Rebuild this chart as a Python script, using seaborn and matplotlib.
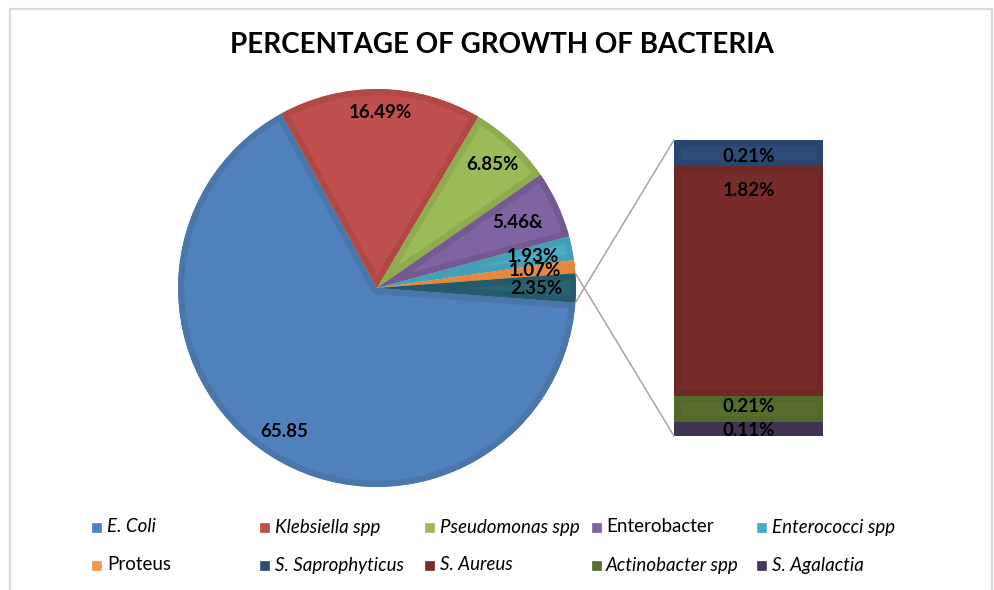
import numpy as np
import matplotlib
matplotlib.use("Agg")
import matplotlib.pyplot as plt
import seaborn as sns
from matplotlib.patches import Rectangle, ConnectionPatch

# ---- data -------------------------------------------------------------
pie_names = ["E. Coli", "Klebsiella spp", "Pseudomonas spp", "Enterobacter",
             "Enterococci spp", "Proteus", "Other"]
pie_values = [65.85, 16.49, 6.85, 5.46, 1.93, 1.07, 2.35]
pie_suffix = ["", "%", "%", "&", "%", "%", "%"]

bar_names = ["S. Saprophyticus", "S. Aureus", "Actinobacter spp", "S. Agalactia"]
bar_values = [0.21, 1.82, 0.21, 0.11]

legend_names = ["E. Coli", "Klebsiella spp", "Pseudomonas spp", "Enterobacter",
                "Enterococci spp", "Proteus", "S. Saprophyticus", "S. Aureus",
                "Actinobacter spp", "S. Agalactia"]
legend_italic = [True, True, True, False, True, False, True, True, True, True]

title = "PERCENTAGE OF GROWTH OF BACTERIA"

# ---- styling ----------------------------------------------------------
sns.set_theme(style="white")
plt.rcParams["font.family"] = ["Lato", "DejaVu Sans"]

pie_colors = ["#4F81BD", "#C0504D", "#9BBB59", "#8064A2", "#4BACC6", "#F79646", "#296273"]
pie_edges = ["#4A76AA", "#B04844", "#8EAB50", "#73598F", "#43A0B8", "#E5883D", "#245A6A"]
bar_colors = ["#2C4D75", "#772C2A", "#586E2D", "#46375A"]
bar_edges = ["#284670", "#6E2826", "#52672A", "#413352"]
color_map = dict(zip(pie_names[:-1] + bar_names, pie_colors[:-1] + bar_colors))

W, H = 995, 590
fig = plt.figure(figsize=(W / 100, H / 100), dpi=100)
fig.patch.set_facecolor("white")

def px_box(x0, y0, x1, y1):
    return [x0 / W, (H - y1) / H, (x1 - x0) / W, (y1 - y0) / H]

# outer chart frame
fig.add_artist(Rectangle((10 / W, -0.02), 982 / W, (H - 9) / H + 0.02,
                         transform=fig.transFigure, fill=False,
                         ec="#D9D9D9", lw=1.6))

fig.text(502 / W, 1 - 45 / H, title, ha="center", va="center",
         fontsize=20, fontweight="bold", color="black")

# ---- main pie ---------------------------------------------------------
ax_pie = fig.add_axes(px_box(178, 89, 576, 487))
total = sum(pie_values)
start = -pie_values[-1] / total * 360 / 2
wedges, _ = ax_pie.pie(pie_values, colors=pie_colors, startangle=start,
                       counterclock=False, radius=1.0,
                       wedgeprops=dict(linewidth=9, joinstyle="round"))
for w, ec in zip(wedges, pie_edges):
    w.set_edgecolor(ec)
    w.set_clip_path(w)
    w.set_clip_on(True)
ax_pie.set_xlim(-1, 1)
ax_pie.set_ylim(-1, 1)
ax_pie.set_aspect("equal")
ax_pie.axis("off")

label_dist = [0.86, 0.88, 0.85, 0.78, 0.80, 0.80, 0.80]
for w, v, s, d in zip(wedges, pie_values, pie_suffix, label_dist):
    mid = np.deg2rad((w.theta1 + w.theta2) / 2)
    ax_pie.text(d * np.cos(mid), d * np.sin(mid), f"{v:.2f}{s}",
                ha="center", va="center", fontsize=13.5, fontweight="bold",
                color="black")

# ---- breakdown bar ----------------------------------------------------
ax_bar = fig.add_axes(px_box(674, 140, 823, 436))
bar_total = sum(bar_values)
bottom = bar_total
label_offsets = [17, 24, 11, 8]
for name, v, c, ec, off in zip(bar_names, bar_values, bar_colors, bar_edges, label_offsets):
    bottom -= v
    rects = ax_bar.bar(0, v, bottom=bottom, width=1.0, color=c,
                       edgecolor=ec, linewidth=9)
    for r in rects:
        r.set_clip_path(r)
        r.set_clip_on(True)
    ax_bar.annotate(f"{v:.2f}%", xy=(0, bottom + v), xytext=(0, -off),
                    textcoords="offset pixels", ha="center", va="center",
                    fontsize=13.5, fontweight="bold", color="black",
                    annotation_clip=False)
ax_bar.set_xlim(-0.5, 0.5)
ax_bar.set_ylim(0, bar_total)
ax_bar.axis("off")

# connector lines between the "Other" wedge and the bar
other = wedges[-1]
for ang, ybar in [(other.theta1, bar_total), (other.theta2, 0)]:
    a = np.deg2rad(ang)
    con = ConnectionPatch(xyA=(np.cos(a), np.sin(a)), coordsA=ax_pie.transData,
                          xyB=(-0.5, ybar), coordsB=ax_bar.transData,
                          color="#A6A6A6", lw=1.1)
    fig.add_artist(con)

# ---- legend -----------------------------------------------------------
col_x = [97, 265, 430, 596, 762]
row_y = [527, 565]
for i, (name, it) in enumerate(zip(legend_names, legend_italic)):
    x = col_x[i % 5]
    y = row_y[i // 5]
    fig.add_artist(Rectangle(((x - 4.5) / W, (H - y - 4.5) / H), 9 / W, 9 / H,
                             transform=fig.transFigure,
                             fc=color_map[name], ec=color_map[name], lw=0.5))
    fig.text((x + 10) / W, 1 - y / H, name, ha="left", va="center",
             fontsize=13.5, style="italic" if it else "normal", color="black")

fig.savefig("out.png", dpi=100, facecolor="white")
